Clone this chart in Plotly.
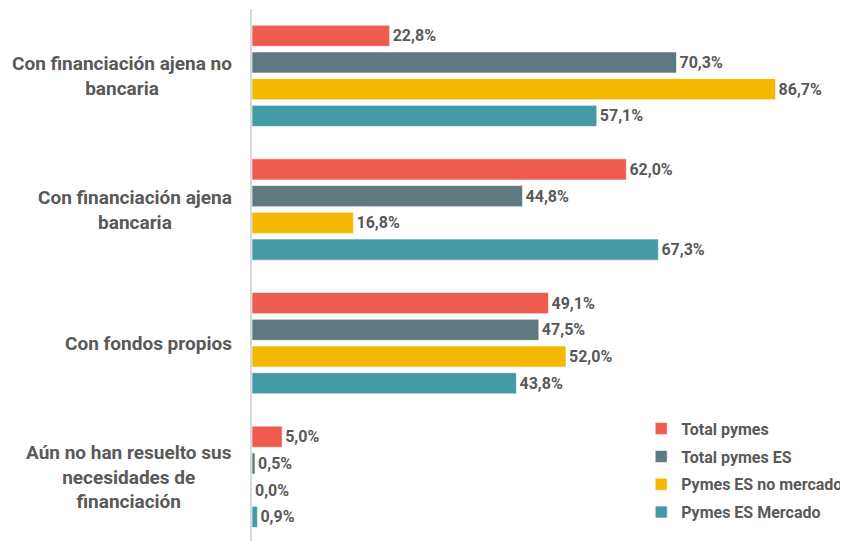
import plotly.graph_objects as go

categories = ["Con financiación ajena no bancaria", "Con financiación ajena bancaria",
              "Con fondos propios", "Aún no han resuelto sus necesidades de financiación"]
category_labels = ["Con financiación ajena no<br>bancaria", "Con financiación ajena<br>bancaria",
                   "Con fondos propios", "Aún no han resuelto sus<br>necesidades de<br>financiación"]
series_names = ["Total pymes", "Total pymes ES", "Pymes ES no mercado", "Pymes ES Mercado"]
total_pymes = [22.8, 62.0, 49.1, 5.0]
total_pymes_es = [70.3, 44.8, 47.5, 0.5]
pymes_es_no_mercado = [86.7, 16.8, 52.0, 0.0]
pymes_es_mercado = [57.1, 67.3, 43.8, 0.9]
colors = ["#EE5B4F", "#5F7A7F", "#F4B800", "#459BA5"]

series_values = [total_pymes, total_pymes_es, pymes_es_no_mercado, pymes_es_mercado]
font_family = "Roboto"
text_color = "#595959"

fig = go.Figure()
for i, (name, vals, col) in enumerate(zip(series_names, series_values, colors)):
    fig.add_trace(go.Bar(
        y=categories, x=vals, name=name, orientation="h",
        marker=dict(color=col, line=dict(color="rgba(255,255,255,0.6)", width=1)),
        text=[f"{v:.1f}%".replace(".", ",") for v in vals],
        textposition="outside", cliponaxis=False,
        textfont=dict(family=font_family, size=16, color=text_color, weight="bold"),
        legendgroup=f"g{i}",
    ))

for cat, lab in zip(categories, category_labels):
    fig.add_annotation(x=-0.031, xref="paper", y=cat, yref="y", text=lab,
                       xanchor="right", align="center", showarrow=False,
                       font=dict(family=font_family, size=19, color=text_color, weight="bold"))

# page body has an 8px default margin, so the figure is offset by 8px
fig.update_layout(
    width=840, height=533,
    margin=dict(l=244, r=0, t=1, b=0, autoexpand=False),
    paper_bgcolor="white", plot_bgcolor="white",
    barmode="group", bargap=0.2, bargroupgap=0.21,
    xaxis=dict(range=[0, 98.7], visible=False),
    yaxis=dict(categoryorder="array", categoryarray=categories,
               range=[3.48, -0.5], showticklabels=False, ticks="",
               showline=True, linecolor="#D9D9D9", linewidth=2, showgrid=False),
    legend=dict(x=0.653, y=0.243,
                xanchor="left", yanchor="top", traceorder="grouped", tracegroupgap=4,
                font=dict(family=font_family, size=16, color=text_color, weight="bold"),
                bgcolor="rgba(0,0,0,0)"),
    showlegend=True,
)

fig.write_html("out.html")
